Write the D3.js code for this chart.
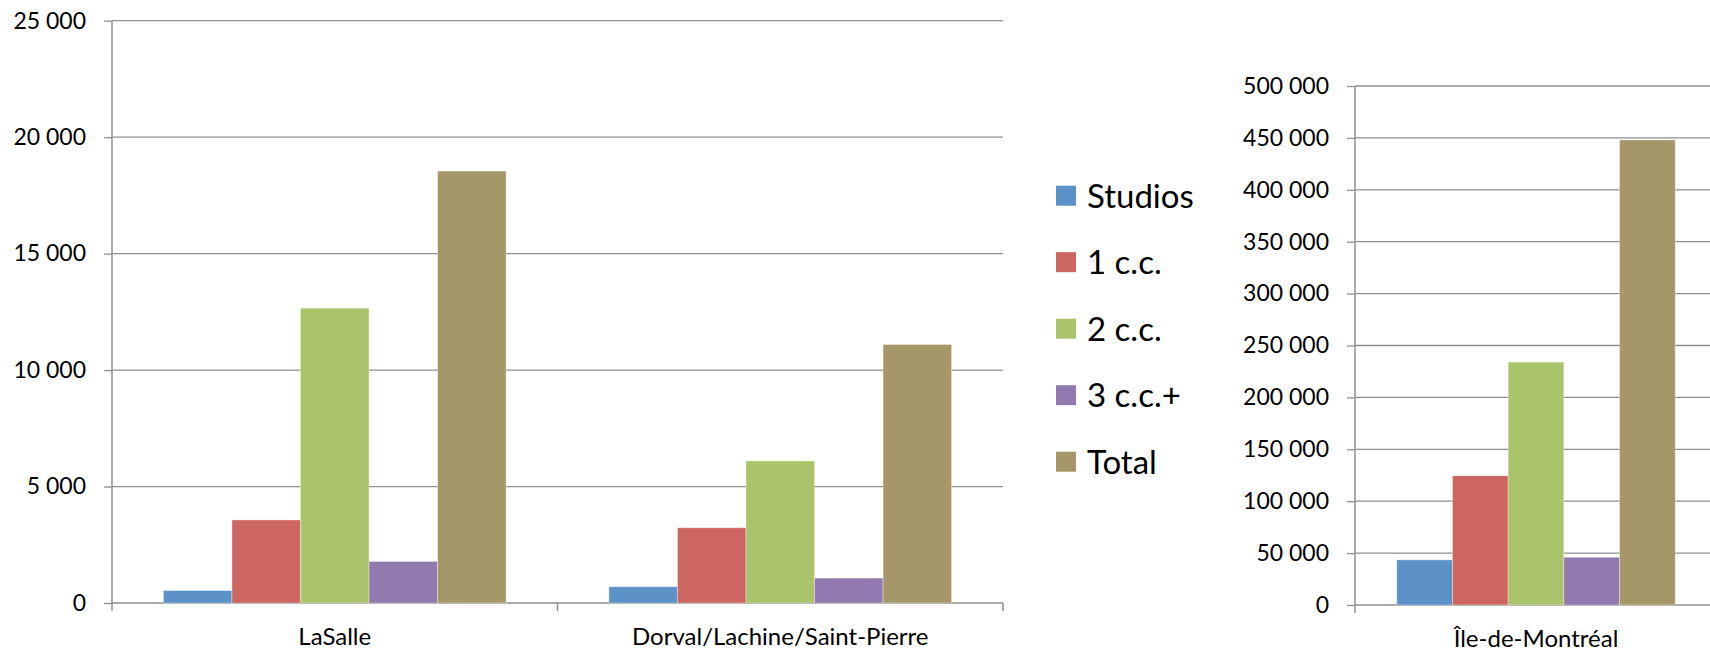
<!DOCTYPE html>
<html>
<head>
<meta charset="utf-8">
<script src="https://cdn.jsdelivr.net/npm/d3@7"></script>
<style>
  body { margin: 0; background: #fff; }
  text { font-family: Lato, "Open Sans", sans-serif; fill: #000; }
</style>
</head>
<body>
<div id="chart"></div>
<script>
// values
var regions = ["LaSalle", "Dorval/Lachine/Saint-Pierre", "Île-de-Montréal"];
var seriesNames = ["Studios", "1 c.c.", "2 c.c.", "3 c.c.+", "Total"];
var studios  = [535, 700, 43500];
var oneBed   = [3566, 3230, 124500];
var twoBed   = [12660, 6100, 234000];
var threeBed = [1783, 1070, 46000];
var total    = [18545, 11100, 448000];
var ticksLeft  = [0, 5000, 10000, 15000, 20000, 25000];
var ticksRight = [0, 50000, 100000, 150000, 200000, 250000, 300000, 350000, 400000, 450000, 500000];

var colors = ["#5B93C9", "#CD6560", "#AAC46B", "#9279B0", "#A59767"];
var allSeries = [studios, oneBed, twoBed, threeBed, total];

var locale = d3.formatLocale({decimal: ",", thousands: " ", grouping: [3], currency: ["", " $"]});
var fmt = locale.format(",d");

var svg = d3.select("#chart")
  .append("svg")
    .attr("width", 1710)
    .attr("height", 651);

function drawPanel(cats, idx, ticks, box) {
  var g = svg.append("g");

  var x0 = d3.scaleBand()
    .domain(cats)
    .range([box.left, box.right]);
  var x1 = d3.scaleBand()
    .domain(seriesNames)
    .range([0, x0.bandwidth()])
    .paddingOuter(0.75);
  var y = d3.scaleLinear()
    .domain([0, d3.max(ticks)])
    .range([box.bottom, box.top]);

  // grid lines
  g.append("g")
    .selectAll("line")
    .data(ticks)
    .join("line")
      .attr("x1", box.left)
      .attr("x2", box.right)
      .attr("y1", function(d) { return y(d); })
      .attr("y2", function(d) { return y(d); })
      .attr("stroke", "#8f8f8f")
      .attr("stroke-width", 1.3);

  // bars
  var rows = cats.map(function(c, i) {
    return seriesNames.map(function(s, k) {
      return {cat: c, key: s, value: allSeries[k][idx[i]], color: colors[k]};
    });
  });
  g.append("g")
    .selectAll("g")
    .data(rows)
    .join("g")
      .attr("transform", function(d) { return "translate(" + x0(d[0].cat) + ",0)"; })
    .selectAll("rect")
    .data(function(d) { return d; })
    .join("rect")
      .attr("x", function(d) { return x1(d.key); })
      .attr("width", x1.bandwidth())
      .attr("y", function(d) { return y(d.value); })
      .attr("height", function(d) { return y(0) - y(d.value); })
      .attr("fill", function(d) { return d.color; })
      .attr("stroke", "#ffffff")
      .attr("stroke-opacity", 0.45)
      .attr("stroke-width", 0.8);

  // y axis
  var yAxis = g.append("g")
    .attr("transform", "translate(" + box.left + ",0)")
    .call(d3.axisLeft(y).tickValues(ticks).tickFormat(fmt).tickSize(8).tickPadding(18).tickSizeOuter(0));
  yAxis.select(".domain").remove();
  yAxis.selectAll(".tick line").attr("stroke", "#8f8f8f").attr("stroke-width", 1.3);
  yAxis.selectAll(".tick text").attr("font-size", 23).attr("font-family", "Lato, sans-serif").attr("fill", "#000");
  g.append("line")
    .attr("x1", box.left).attr("x2", box.left)
    .attr("y1", box.top).attr("y2", box.bottom + 8)
    .attr("stroke", "#8f8f8f")
    .attr("stroke-width", 1.5);

  // x axis: category labels and boundary ticks
  var xAxis = g.append("g")
    .attr("transform", "translate(0," + box.bottom + ")")
    .call(d3.axisBottom(x0).tickSize(0).tickPadding(25));
  xAxis.select(".domain").remove();
  xAxis.selectAll(".tick text").attr("font-size", 24).attr("font-family", "Lato, sans-serif").attr("fill", "#000");

  var bounds = cats.map(function(c) { return x0(c); }).concat([box.right]);
  g.append("g")
    .selectAll("line")
    .data(bounds.slice(1))
    .join("line")
      .attr("x1", function(d) { return d; })
      .attr("x2", function(d) { return d; })
      .attr("y1", box.bottom)
      .attr("y2", box.bottom + 8)
      .attr("stroke", "#8f8f8f")
      .attr("stroke-width", 1.5);
}

drawPanel(regions.slice(0, 2), [0, 1], ticksLeft, {left: 112, right: 1003, top: 20.7, bottom: 603});
drawPanel(regions.slice(2), [2], ticksRight, {left: 1355, right: 1717, top: 86, bottom: 605});

// legend
var legend = svg.append("g")
  .attr("transform", "translate(1056,185.7)");
var item = legend.selectAll("g")
  .data(seriesNames)
  .join("g")
    .attr("transform", function(d, i) { return "translate(0," + (i * 66.5) + ")"; });
item.append("rect")
  .attr("width", 20)
  .attr("height", 20)
  .attr("fill", function(d, i) { return colors[i]; });
item.append("text")
  .attr("x", 31)
  .attr("y", 22)
  .attr("font-size", 33)
  .text(function(d) { return d; });
</script>
</body>
</html>
